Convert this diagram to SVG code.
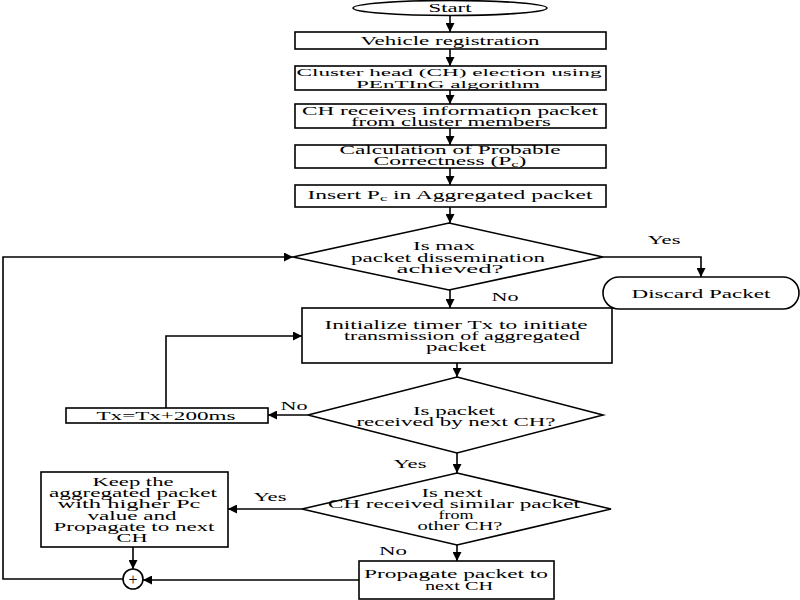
<svg xmlns="http://www.w3.org/2000/svg" width="800" height="600" viewBox="0 0 800 600">
<style>
.s{fill:#fff;stroke:#000;stroke-width:1.6}
.t{font-family:"Liberation Serif","Times New Roman",serif;font-size:11.5px;fill:#000;text-anchor:middle}
.c{fill:none;stroke:#000;stroke-width:1.6}
.a{marker-end:url(#ah)}
</style>
<defs>
<marker id="ah" viewBox="0 0 10 10" refX="10" refY="5" markerWidth="9" markerHeight="9" markerUnits="userSpaceOnUse" orient="auto">
<path d="M0,0 L10,5 L0,10 z" fill="#000"/>
</marker>
</defs>
<rect width="800" height="600" fill="#fff"/>
<g id="connectors">
<path class="c a" d="M450,15 V32"/>
<path class="c a" d="M450,49 V66"/>
<path class="c a" d="M450,90 V104"/>
<path class="c a" d="M450,128 V145"/>
<path class="c a" d="M450,168 V185"/>
<path class="c a" d="M450,207 V223"/>
<path class="c a" d="M450,290 V308"/>
<path class="c a" d="M603,257 H701 V277"/>
<path class="c a" d="M457,363 V377"/>
<path class="c a" d="M308,415 H268"/>
<path class="c a" d="M166,408 V336 H302"/>
<path class="c a" d="M457,453 V473"/>
<path class="c a" d="M302,509 H228"/>
<path class="c a" d="M457,545 V561"/>
<path class="c a" d="M359,580 H143"/>
<path class="c a" d="M133,547 V569"/>
<path class="c a" d="M123,579 H3 V257 H293"/>
</g>
<g id="start">
<ellipse class="s" cx="450" cy="8" rx="97" ry="7.5"/>
<text class="t" x="450" y="12" textLength="43" lengthAdjust="spacingAndGlyphs">Start</text>
</g>
<g id="vehicle">
<rect class="s" x="295" y="32" width="311" height="17"/>
<text class="t" x="450" y="44.5" textLength="179" lengthAdjust="spacingAndGlyphs">Vehicle registration</text>
</g>
<g id="election">
<rect class="s" x="295" y="66" width="311" height="24"/>
<text class="t" x="449" y="76" style="font-size:11px" textLength="305" lengthAdjust="spacingAndGlyphs">Cluster head (CH) election using</text>
<text class="t" x="448" y="87.5" style="font-size:11px" textLength="184" lengthAdjust="spacingAndGlyphs">PEnTInG algorithm</text>
</g>
<g id="receives">
<rect class="s" x="295" y="104" width="311" height="24"/>
<text class="t" x="450" y="115" textLength="296" lengthAdjust="spacingAndGlyphs">CH receives information packet</text>
<text class="t" x="451" y="126" textLength="200" lengthAdjust="spacingAndGlyphs">from cluster members</text>
</g>
<g id="calculation">
<rect class="s" x="295" y="145" width="311" height="23"/>
<text class="t" x="450" y="154" textLength="221" lengthAdjust="spacingAndGlyphs">Calculation of Probable</text>
<text class="t" x="450" y="165" textLength="153" lengthAdjust="spacingAndGlyphs">Correctness (P<tspan style="font-size:8px" dy="2">c</tspan><tspan dy="-2">)</tspan></text>
</g>
<g id="insert">
<rect class="s" x="295" y="185" width="311" height="22"/>
<text class="t" x="450" y="198.5" textLength="285" lengthAdjust="spacingAndGlyphs">Insert P<tspan style="font-size:8px" dy="2">c</tspan><tspan dy="-2"> in Aggregated packet</tspan></text>
</g>
<g id="maxdiss">
<polygon class="s" points="449,223 603,257 449,290 293,257"/>
<text class="t" x="444" y="250" textLength="62" lengthAdjust="spacingAndGlyphs">Is max</text>
<text class="t" x="448" y="262" textLength="194" lengthAdjust="spacingAndGlyphs">packet dissemination</text>
<text class="t" x="450" y="273" textLength="107" lengthAdjust="spacingAndGlyphs">achieved?</text>
</g>
<g id="discard">
<rect class="s" x="603" y="277" width="196" height="32" rx="16" ry="16"/>
<text class="t" x="701" y="297.5" textLength="139" lengthAdjust="spacingAndGlyphs">Discard Packet</text>
</g>
<g id="initialize">
<rect class="s" x="302" y="308" width="310" height="55"/>
<text class="t" x="456" y="329" textLength="263" lengthAdjust="spacingAndGlyphs">Initialize timer Tx to initiate</text>
<text class="t" x="462" y="340" textLength="236" lengthAdjust="spacingAndGlyphs">transmission of aggregated</text>
<text class="t" x="456" y="351" textLength="60" lengthAdjust="spacingAndGlyphs">packet</text>
</g>
<g id="timer">
<rect class="s" x="66" y="408" width="202" height="15"/>
<text class="t" x="166" y="419.5" textLength="139" lengthAdjust="spacingAndGlyphs">Tx=Tx+200ms</text>
</g>
<g id="received">
<polygon class="s" points="457,377 603,415 457,453 308,415"/>
<text class="t" x="454" y="415" textLength="82" lengthAdjust="spacingAndGlyphs">Is packet</text>
<text class="t" x="456" y="426" textLength="199" lengthAdjust="spacingAndGlyphs">received by next CH?</text>
</g>
<g id="similar">
<polygon class="s" points="457,473 611,509 457,545 302,509"/>
<text class="t" x="452" y="497" textLength="61" lengthAdjust="spacingAndGlyphs">Is next</text>
<text class="t" x="454" y="508" textLength="252" lengthAdjust="spacingAndGlyphs">CH received similar packet</text>
<text class="t" x="456" y="519" textLength="35" lengthAdjust="spacingAndGlyphs">from</text>
<text class="t" x="460" y="530" textLength="85" lengthAdjust="spacingAndGlyphs">other CH?</text>
</g>
<g id="keep">
<rect class="s" x="41" y="472" width="187" height="75"/>
<text class="t" x="133" y="486" textLength="81" lengthAdjust="spacingAndGlyphs">Keep the</text>
<text class="t" x="133" y="497" textLength="168" lengthAdjust="spacingAndGlyphs">aggregated packet</text>
<text class="t" x="129" y="508" textLength="143" lengthAdjust="spacingAndGlyphs">with higher Pc</text>
<text class="t" x="132" y="520" textLength="89" lengthAdjust="spacingAndGlyphs">value and</text>
<text class="t" x="134" y="531" textLength="161" lengthAdjust="spacingAndGlyphs">Propagate to next</text>
<text class="t" x="132" y="542" textLength="31" lengthAdjust="spacingAndGlyphs">CH</text>
</g>
<g id="propagate">
<rect class="s" x="359" y="561" width="195" height="38"/>
<text class="t" x="456" y="578" textLength="184" lengthAdjust="spacingAndGlyphs">Propagate packet to</text>
<text class="t" x="459" y="590" textLength="68" lengthAdjust="spacingAndGlyphs">next CH</text>
</g>
<g id="join">
<circle class="s" cx="133" cy="579" r="10"/>
<text class="t" x="133" y="584.5" style="font-size:16px">+</text>
</g>
<g id="labels">
<text class="t" x="664" y="244" textLength="33" lengthAdjust="spacingAndGlyphs">Yes</text>
<text class="t" x="505" y="301" textLength="27" lengthAdjust="spacingAndGlyphs">No</text>
<text class="t" x="294" y="410" textLength="27" lengthAdjust="spacingAndGlyphs">No</text>
<text class="t" x="410" y="468" textLength="33" lengthAdjust="spacingAndGlyphs">Yes</text>
<text class="t" x="270" y="501" textLength="33" lengthAdjust="spacingAndGlyphs">Yes</text>
<text class="t" x="393" y="555" textLength="28" lengthAdjust="spacingAndGlyphs">No</text>
</g>
</svg>
